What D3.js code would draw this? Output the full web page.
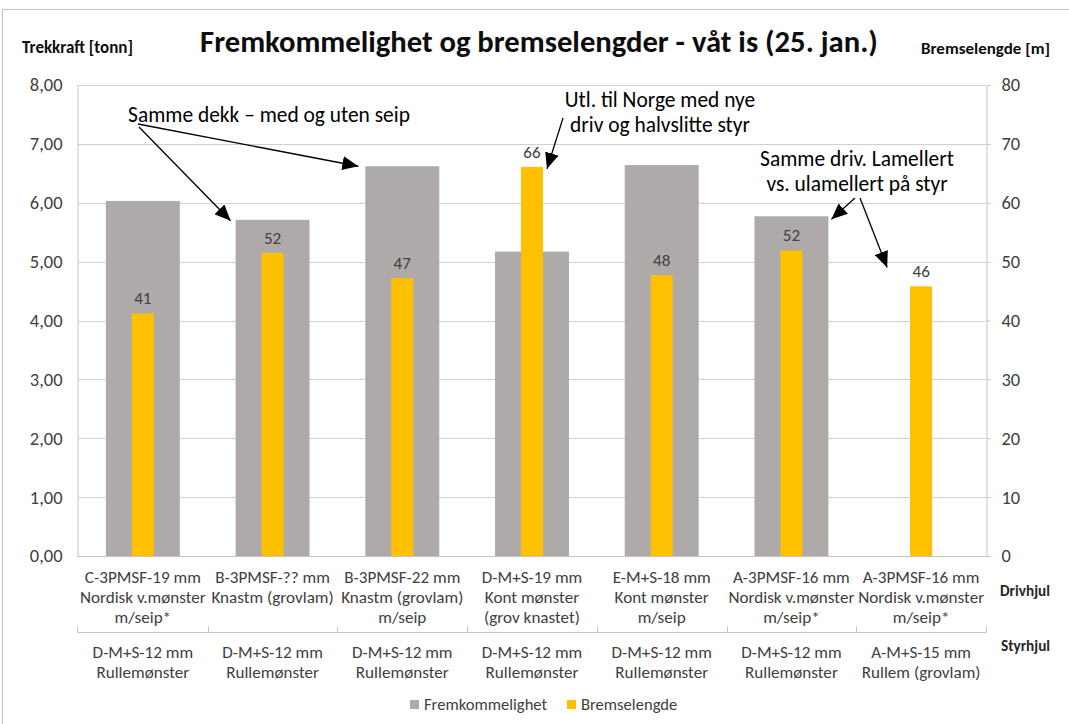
<!DOCTYPE html>
<html><head><meta charset="utf-8">
<script src="https://cdn.jsdelivr.net/npm/d3@7"></script>
<style>
html,body{margin:0;padding:0;background:#fff;}
svg{display:block;}
text{font-family:Carlito,Lato,"Open Sans",sans-serif;}
</style></head>
<body>
<svg id="chart" width="1069" height="724"></svg>
<script>
// ---------- DATA ----------
const drivhjul = [
  ["C-3PMSF-19 mm","Nordisk v.mønster","m/seip*"],
  ["B-3PMSF-?? mm","Knastm (grovlam)"],
  ["B-3PMSF-22 mm","Knastm (grovlam)","m/seip"],
  ["D-M+S-19 mm","Kont mønster","(grov knastet)"],
  ["E-M+S-18 mm","Kont mønster","m/seip"],
  ["A-3PMSF-16 mm","Nordisk v.mønster","m/seip*"],
  ["A-3PMSF-16 mm","Nordisk v.mønster","m/seip*"]
];
const styrhjul = [
  ["D-M+S-12 mm","Rullemønster"],
  ["D-M+S-12 mm","Rullemønster"],
  ["D-M+S-12 mm","Rullemønster"],
  ["D-M+S-12 mm","Rullemønster"],
  ["D-M+S-12 mm","Rullemønster"],
  ["D-M+S-12 mm","Rullemønster"],
  ["A-M+S-15 mm","Rullem (grovlam)"]
];
const fremkommelighet = [6.03, 5.71, 6.62, 5.17, 6.64, 5.77, null];
const bremselengde    = [41.2, 51.5, 47.2, 66.1, 47.7, 51.9, 45.8];
const leftTicks  = [0,1,2,3,4,5,6,7,8];
const rightTicks = [0,10,20,30,40,50,60,70,80];
const titleText = "Fremkommelighet og bremselengder - våt is (25. jan.)";
const leftTitle = "Trekkraft [tonn]";
const rightTitle = "Bremselengde [m]";
const seriesNames = ["Fremkommelighet","Bremselengde"];

// ---------- SETUP ----------
const svg = d3.select("#chart");
const W = 1069, H = 724;
const plot = {l:78, r:986, t:85, b:556};
const GRAY = "#aeaaaa", YELLOW = "#ffc000", GRID = "#d0d0d0", AXIS="#c4c4c4", TXT="#404040";

function fitSize(str, weight, targetW){
  const t = svg.append("text").attr("font-size",20).attr("font-weight",weight).text(str);
  const w = t.node().getComputedTextLength();
  t.remove();
  return 20*targetW/w;
}

// outer border
svg.append("rect").attr("x",2.5).attr("y",9.5).attr("width",1200).attr("height",900)
  .attr("fill","none").attr("stroke","#bfbfbf");

const x = d3.scaleBand().domain(d3.range(drivhjul.length)).range([plot.l, plot.r]);
const yL = d3.scaleLinear().domain([0,8]).range([plot.b, plot.t]);
const yR = d3.scaleLinear().domain([0,80]).range([plot.b, plot.t]);

// gridlines
svg.append("g").selectAll("line").data(leftTicks.slice(1)).join("line")
  .attr("x1",plot.l).attr("x2",plot.r)
  .attr("y1",d=>Math.round(yL(d))+0.5).attr("y2",d=>Math.round(yL(d))+0.5)
  .attr("stroke",GRID);

// bars
const bw = x.bandwidth();
svg.append("g").selectAll("rect").data(fremkommelighet.map((v,i)=>({v,i})).filter(d=>d.v!=null)).join("rect")
  .attr("x",d=>x(d.i)+bw*0.215).attr("width",bw*0.57)
  .attr("y",d=>yL(d.v)).attr("height",d=>yL(0)-yL(d.v))
  .attr("fill",GRAY);
svg.append("g").selectAll("rect").data(bremselengde.map((v,i)=>({v,i}))).join("rect")
  .attr("x",d=>x(d.i)+bw*0.415).attr("width",bw*0.17)
  .attr("y",d=>yR(d.v)).attr("height",d=>yR(0)-yR(d.v))
  .attr("fill",YELLOW);

// data labels
const lblSize = fitSize("Nordisk v.mønster", "normal", 126);
svg.append("g").selectAll("text").data(bremselengde.map((v,i)=>({v,i}))).join("text")
  .attr("x",d=>x(d.i)+bw/2).attr("y",d=>yR(d.v)-9)
  .attr("text-anchor","middle").attr("font-size",lblSize*1.0).attr("fill",TXT)
  .text(d=>d3.format(".0f")(d.v));

// axes
const axL = svg.append("g").attr("transform",`translate(${plot.l-0.5},0)`)
  .call(d3.axisLeft(yL).tickValues(leftTicks).tickSize(0).tickPadding(15)
    .tickFormat(d=>d3.format(".2f")(d).replace(".",",")));
const axR = svg.append("g").attr("transform",`translate(${plot.r+0.5},0)`)
  .call(d3.axisRight(yR).tickValues(rightTicks).tickSize(4).tickPadding(11));
[axL,axR].forEach(a=>{
  a.select(".domain").attr("stroke",AXIS);
  a.selectAll(".tick line").attr("stroke",AXIS);
  a.selectAll("text").attr("fill",TXT).attr("font-size",lblSize*1.08)
    .style("font-family","Carlito,Lato,'Open Sans',sans-serif");
});
// bottom axis line
svg.append("line").attr("x1",plot.l-0.5).attr("x2",plot.r+0.5)
  .attr("y1",plot.b+0.5).attr("y2",plot.b+0.5).attr("stroke",AXIS);

// category labels level 1
const lineH = 20;
const catG = svg.append("g");
drivhjul.forEach((lines,i)=>{
  const t = catG.append("text").attr("text-anchor","middle").attr("font-size",lblSize).attr("fill",TXT);
  lines.forEach((s,k)=>t.append("tspan").attr("x",x(i)+bw/2).attr("y",plot.b+27+k*lineH).text(s));
});
// separator line with boundary ticks
const sepY = 632.5;
svg.append("line").attr("x1",plot.l-0.5).attr("x2",plot.r+0.5).attr("y1",sepY).attr("y2",sepY).attr("stroke",AXIS);
svg.append("g").selectAll("line").data(d3.range(drivhjul.length+1)).join("line")
  .attr("x1",d=>Math.round(d<drivhjul.length? x(d): plot.r)+0.5-(d===0?1:0))
  .attr("x2",d=>Math.round(d<drivhjul.length? x(d): plot.r)+0.5-(d===0?1:0))
  .attr("y1",sepY).attr("y2",sepY-6).attr("stroke",AXIS);
// level 2
styrhjul.forEach((lines,i)=>{
  const t = catG.append("text").attr("text-anchor","middle").attr("font-size",lblSize).attr("fill",TXT);
  lines.forEach((s,k)=>t.append("tspan").attr("x",x(i)+bw/2).attr("y",sepY+25+k*lineH).text(s));
});
// level names
const lvlSize = fitSize("Drivhjul","bold",50);
svg.append("text").attr("x",1000).attr("y",596).attr("font-weight","bold").attr("font-size",lvlSize).attr("fill","#262626").text("Drivhjul");
svg.append("text").attr("x",1001).attr("y",651).attr("font-weight","bold").attr("font-size",lvlSize).attr("fill","#262626").text("Styrhjul");

// titles
svg.append("text").attr("x",539).attr("y",52).attr("text-anchor","middle").attr("font-weight","bold")
  .attr("font-size",fitSize(titleText,"bold",678)).attr("fill","#0d0d0d").text(titleText);
svg.append("text").attr("x",22).attr("y",53).attr("font-weight","bold")
  .attr("font-size",fitSize(leftTitle,"bold",111)).attr("fill","#0d0d0d").text(leftTitle);
svg.append("text").attr("x",921).attr("y",54).attr("font-weight","bold")
  .attr("font-size",fitSize(rightTitle,"bold",129)).attr("fill","#0d0d0d").text(rightTitle);

// legend
const legSize = lblSize*0.97;
const leg = svg.append("g");
leg.append("rect").attr("x",410).attr("y",700).attr("width",9).attr("height",9).attr("fill",GRAY);
leg.append("text").attr("x",424).attr("y",709.5).attr("font-size",legSize).attr("fill",TXT).text(seriesNames[0]);
leg.append("rect").attr("x",567).attr("y",700).attr("width",9).attr("height",9).attr("fill",YELLOW);
leg.append("text").attr("x",581).attr("y",709.5).attr("font-size",legSize).attr("fill",TXT).text(seriesNames[1]);

// ---------- ANNOTATIONS ----------
const defs = svg.append("defs");
defs.append("marker").attr("id","arr").attr("markerUnits","userSpaceOnUse")
  .attr("viewBox","0 0 16 14").attr("refX",16).attr("refY",7)
  .attr("markerWidth",16).attr("markerHeight",14).attr("orient","auto")
  .append("path").attr("d","M0,0 L16,7 L0,14 Z").attr("fill","#000");

const annSize = fitSize("Samme dekk – med og uten seip","normal",282);
function annText(lines, cx, y0, gap){
  const t = svg.append("text").attr("text-anchor","middle").attr("font-size",annSize).attr("fill","#000");
  lines.forEach((s,k)=>t.append("tspan").attr("x",cx).attr("y",y0+k*gap).text(s));
}
function arrow(x1,y1,x2,y2){
  svg.append("line").attr("x1",x1).attr("y1",y1).attr("x2",x2).attr("y2",y2)
    .attr("stroke","#000").attr("stroke-width",1.3).attr("marker-end","url(#arr)");
}
annText(["Samme dekk – med og uten seip"], 269, 122, 0);
arrow(139,127, x(1)+bw*0.215-5, yL(fremkommelighet[1])+1);
arrow(138,124, x(2)+bw*0.215-7, yL(fremkommelighet[2]));
annText(["Utl. til Norge med nye","driv og halvslitte styr"], 660, 107, 25);
arrow(563,118, x(3)+bw*0.585+4, yR(bremselengde[3])+2);
annText(["Samme driv. Lamellert","vs. ulamellert på styr"], 857, 166, 25);
arrow(855,198, x(5)+bw*0.785+3, yL(fremkommelighet[5])+3);
arrow(860,198, x(6)+bw*0.5-34, yR(49.0));
</script>
</body></html>
